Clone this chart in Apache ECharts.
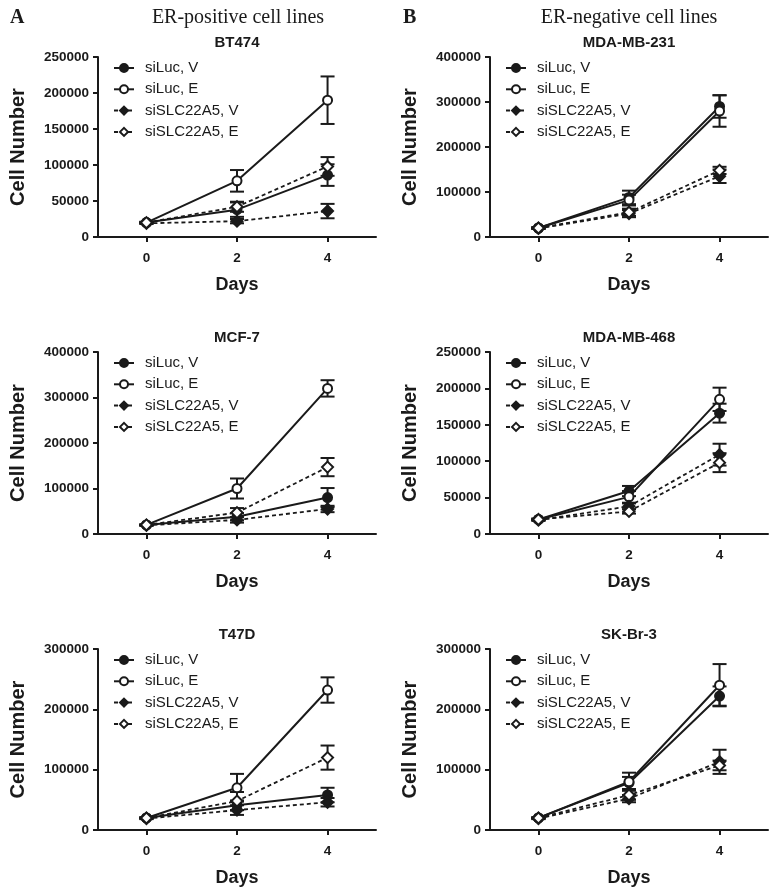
<!DOCTYPE html>
<html><head><meta charset="utf-8">
<script src="https://cdn.jsdelivr.net/npm/echarts@6/dist/echarts.min.js"></script>
<style>html,body{margin:0;padding:0;background:#fff}#c{width:778px;height:896px}</style>
</head><body><div id="c"></div>
<script>
// ---- data ----
const days = [0, 2, 4];
const seriesNames = ['siLuc, V', 'siLuc, E', 'siSLC22A5, V', 'siSLC22A5, E'];
const panelTitles = ['BT474', 'MDA-MB-231', 'MCF-7', 'MDA-MB-468', 'T47D', 'SK-Br-3'];
const yMax = [250000, 400000, 400000, 250000, 300000, 300000];
const yStep = [50000, 100000, 100000, 50000, 100000, 100000];
const xTicks = [0, 2, 4];

// means per panel: rows = siLuc V, siLuc E, siSLC22A5 V, siSLC22A5 E
const bt474Mean = [[20000, 38000, 86000], [20000, 78000, 190000], [19000, 22000, 36000], [20000, 42000, 98000]];
const bt474Err  = [[1000, 10000, 15000], [1000, 15000, 33000], [1000, 3000, 10000], [1000, 7000, 13000]];
const mda231Mean = [[20000, 88000, 290000], [20000, 82000, 280000], [19000, 52000, 135000], [20000, 55000, 148000]];
const mda231Err  = [[2000, 15000, 25000], [2000, 12000, 35000], [1000, 8000, 15000], [1000, 8000, 8000]];
const mcf7Mean = [[20000, 38000, 80000], [20000, 100000, 320000], [19000, 31000, 55000], [20000, 47000, 147000]];
const mcf7Err  = [[1000, 8000, 21000], [1000, 22000, 18000], [1000, 6000, 7000], [1000, 10000, 20000]];
const mda468Mean = [[20000, 59000, 166000], [20000, 51000, 185000], [19000, 38000, 109000], [20000, 31000, 98000]];
const mda468Err  = [[1000, 7000, 13000], [1000, 8000, 16000], [1000, 4000, 15000], [1000, 3000, 13000]];
const t47dMean = [[20000, 41000, 58000], [20000, 70000, 232000], [19000, 33000, 46000], [20000, 48000, 120000]];
const t47dErr  = [[1000, 8000, 12000], [1000, 23000, 21000], [1000, 8000, 7000], [1000, 15000, 20000]];
const skbr3Mean = [[20000, 78000, 222000], [20000, 80000, 240000], [19000, 52000, 113000], [20000, 58000, 107000]];
const skbr3Err  = [[1000, 10000, 16000], [1000, 15000, 35000], [1000, 6000, 20000], [1000, 8000, 8000]];

const panelMeans = [bt474Mean, mda231Mean, mcf7Mean, mda468Mean, t47dMean, skbr3Mean];
const panelErrs = [bt474Err, mda231Err, mcf7Err, mda468Err, t47dErr, skbr3Err];

// ---- layout / style ----
const colLeft = [98, 490], colWidth = [278, 278];
const rowTop = [57, 352, 649], rowHeight = [180, 182, 181];
const symbols = ['circle', 'emptyCircle', 'diamond', 'emptyDiamond'];
const symSizes = [9, 9, 11, 11];
const dashed = [false, false, true, true];
const SANS = 'Liberation Sans, Arial, Helvetica, sans-serif';

const grids = [], xAxes = [], yAxes = [], series = [], legends = [], graphics = [];
for (let p = 0; p < 6; p++) {
  const r = Math.floor(p / 2), c = p % 2;
  grids.push({left: colLeft[c], top: rowTop[r], width: colWidth[c], height: rowHeight[r]});
  xAxes.push({
    type: 'value', gridIndex: p, min: -1.07, max: 5.07,
    name: 'Days', nameLocation: 'middle', nameGap: 39,
    nameTextStyle: {fontFamily: SANS, fontWeight: 'bold', fontSize: 18, color: '#1a1a1a'},
    axisLine: {show: true, onZero: false, lineStyle: {color: '#1a1a1a', width: 2}},
    axisTick: {show: true, customValues: xTicks, length: 5, lineStyle: {color: '#1a1a1a', width: 2}},
    axisLabel: {customValues: xTicks, margin: 14, fontFamily: SANS, fontWeight: 'bold', fontSize: 13.5, color: '#1a1a1a'},
    splitLine: {show: false}
  });
  yAxes.push({
    type: 'value', gridIndex: p, min: 0, max: yMax[p], interval: yStep[p],
    name: 'Cell Number', nameLocation: 'middle', nameGap: 70, nameRotate: 90,
    nameTextStyle: {fontFamily: SANS, fontWeight: 'bold', fontSize: 20, color: '#1a1a1a'},
    axisLine: {show: true, onZero: false, lineStyle: {color: '#1a1a1a', width: 2}},
    axisTick: {show: true, length: 5, lineStyle: {color: '#1a1a1a', width: 2}},
    axisLabel: {margin: 9, formatter: v => String(v), fontFamily: SANS, fontWeight: 'bold', fontSize: 13.5, color: '#1a1a1a'},
    splitLine: {show: false}
  });
  // error bars
  const errData = [];
  for (let s = 0; s < 4; s++) {
    for (let d = 0; d < days.length; d++) {
      const m = panelMeans[p][s][d], e = panelErrs[p][s][d];
      errData.push([days[d], m - e, m + e]);
    }
  }
  series.push({
    type: 'custom', name: 'err' + p, xAxisIndex: p, yAxisIndex: p, z: 1, silent: true,
    data: errData,
    renderItem: function (params, api) {
      const x = api.value(0);
      const lo = api.coord([x, api.value(1)]);
      const hi = api.coord([x, api.value(2)]);
      const w = 7;
      const st = {stroke: '#1a1a1a', lineWidth: 2};
      return {type: 'group', children: [
        {type: 'line', shape: {x1: lo[0], y1: lo[1], x2: hi[0], y2: hi[1]}, style: st},
        {type: 'line', shape: {x1: lo[0] - w, y1: lo[1], x2: lo[0] + w, y2: lo[1]}, style: st},
        {type: 'line', shape: {x1: hi[0] - w, y1: hi[1], x2: hi[0] + w, y2: hi[1]}, style: st}
      ]};
    }
  });
  for (let s = 0; s < 4; s++) {
    series.push({
      type: 'line', name: seriesNames[s], xAxisIndex: p, yAxisIndex: p, z: 3,
      data: days.map((d, i) => [d, panelMeans[p][s][i]]),
      symbol: symbols[s], symbolSize: symSizes[s], showAllSymbol: true,
      lineStyle: {color: '#1a1a1a', width: dashed[s] ? 1.8 : 2, type: dashed[s] ? [4, 3] : 'solid'},
      itemStyle: {color: '#1a1a1a', borderColor: '#1a1a1a', borderWidth: 2},
      emphasis: {disabled: true}, animation: false
    });
  }
  legends.push({
    data: seriesNames, orient: 'vertical', padding: 0,
    left: colLeft[c] + 15, top: rowTop[r] + 3.5,
    itemWidth: 20, itemHeight: 10, itemGap: 6.3,
    textStyle: {fontFamily: SANS, fontSize: 15, lineHeight: 15, color: '#1a1a1a', padding: [0, 0, 0, 6]},
    selectedMode: false
  });
  graphics.push({
    type: 'text',
    x: colLeft[c] + 139, y: rowTop[r] - 14,
    style: {text: panelTitles[p], textAlign: 'center', textVerticalAlign: 'middle',
      font: 'bold 15px ' + SANS, fill: '#1a1a1a'}
  });
}
graphics.push(
  {type: 'text', x: 10, y: 18, style: {text: 'A', textVerticalAlign: 'middle', font: 'bold 20px Liberation Serif, Times New Roman, serif', fill: '#1a1a1a'}},
  {type: 'text', x: 403, y: 18, style: {text: 'B', textVerticalAlign: 'middle', font: 'bold 20px Liberation Serif, Times New Roman, serif', fill: '#1a1a1a'}},
  {type: 'text', x: 238, y: 18, style: {text: 'ER-positive cell lines', textAlign: 'center', textVerticalAlign: 'middle', font: '20px Liberation Serif, Times New Roman, serif', fill: '#1a1a1a'}},
  {type: 'text', x: 629, y: 18, style: {text: 'ER-negative cell lines', textAlign: 'center', textVerticalAlign: 'middle', font: '20px Liberation Serif, Times New Roman, serif', fill: '#1a1a1a'}}
);

const chart = echarts.init(document.getElementById('c'), null, {renderer: 'canvas'});
chart.setOption({
  backgroundColor: '#fff', animation: false,
  grid: grids, xAxis: xAxes, yAxis: yAxes, series: series, legend: legends, graphic: graphics
});
</script></body></html>
